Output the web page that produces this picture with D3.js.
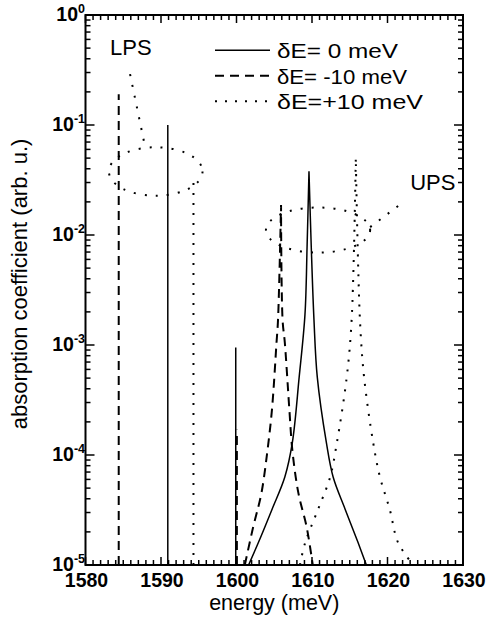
<!DOCTYPE html>
<html>
<head>
<meta charset="utf-8">
<script src="https://cdn.jsdelivr.net/npm/d3@7"></script>
<style>
    body { margin: 0; background: #fff; }
    text { font-family: 'Liberation Sans', Arial, sans-serif; fill: #000; }
    .tick-label { font-weight: bold; font-size: 19.5px; }
</style>
</head>
<body>
<div class="viz"></div>
<script>
// series: [energy (meV), absorption]
const seriesNames = ['δE= 0 meV', 'δE= -10 meV', 'δE=+10 meV'];

const curveZero = [
    [1601.6, 1.0e-5], [1602.9, 1.6e-5], [1604.7, 3.2e-5], [1606.4, 6.3e-5],
    [1607.4, 1.3e-4], [1608.3, 5.1e-4], [1609.07, 1.9e-3], [1609.35, 7.9e-3],
    [1609.6, 0.038],
    [1609.9, 7.9e-3], [1610.26, 1.7e-3], [1610.7, 5.1e-4], [1611.9, 1.3e-4],
    [1612.8, 6.3e-5], [1614.4, 3.2e-5], [1616.1, 1.6e-5], [1617.2, 1.0e-5]
];
const curveMinus = [
    [1601.1, 1.0e-5], [1602.2, 2.2e-5], [1603.3, 4.5e-5], [1604.1, 1.1e-4],
    [1604.7, 2.6e-4], [1605.3, 1.05e-3], [1605.5, 1.7e-3],
    [1605.9, 0.0187],
    [1606.1, 1.7e-3], [1606.4, 1.05e-3], [1607.0, 2.6e-4], [1607.4, 1.1e-4],
    [1608.2, 4.5e-5], [1609.3, 2.2e-5], [1610.1, 1.0e-5]
];
const curvePlus = [
    [1608.4, 1.0e-5], [1609.1, 1.6e-5], [1610.8, 3.2e-5], [1612.4, 6.3e-5],
    [1613.3, 1.3e-4], [1614.6, 5.1e-4], [1615.25, 1.7e-3],
    [1615.8, 0.05],
    [1616.35, 1.7e-3], [1616.9, 5.1e-4], [1618.1, 1.3e-4], [1619.0, 6.3e-5],
    [1620.3, 3.2e-5], [1621.4, 1.6e-5], [1623.4, 1.0e-5]
];

// narrow lines: [energy, peak]
const spikesZero = [[1590.9, 0.1], [1599.9, 9.5e-4]];
const spikesMinus = [[1584.4, 0.19], [1600.05, 1.7e-4]];
const spikesPlus = [[1594.3, 0.03]];

const xTicks = [1580, 1590, 1600, 1610, 1620, 1630];
const yTicks = [1e-5, 1e-4, 1e-3, 1e-2, 1e-1, 1];

// annotations: center [energy, value], half width (meV), half height (decades)
const ellipses = [
    {c: [1589.3, 0.0378], rx: 6.2, ry: 0.22},
    {c: [1610.8, 0.0111], rx: 6.9, ry: 0.205}
];
const pointers = [
    [[1585.9, 0.29], [1587.9, 0.063]],
    [[1617.7, 0.0118], [1622.3, 0.0204]]
];
const labels = [
    {text: 'LPS', at: [1583.25, 0.43]},
    {text: 'UPS', at: [1623.0, 0.0257]}
];

const styles = [
    {width: 1.5, dash: null},
    {width: 2, dash: '9,6'},
    {width: 2, dash: '2,8'}
];

const width = 487;
const height = 626;
const margin = {top: 15, right: 24, bottom: 61, left: 85.5};

const svg = d3.select('.viz')
    .append('svg')
    .attr('width', width)
    .attr('height', height);

const x = d3.scaleLinear()
    .domain([1580, 1630])
    .range([margin.left, width - margin.right]);
const y = d3.scaleLog()
    .domain([1e-5, 1])
    .range([height - margin.bottom, margin.top]);

const x0 = x.range()[0], x1 = x.range()[1];
const y0 = y.range()[0], y1 = y.range()[1];

svg.append('clipPath')
    .attr('id', 'clip')
    .append('rect')
        .attr('x', x0)
        .attr('y', y1)
        .attr('width', x1 - x0)
        .attr('height', y0 - y1);

const plot = svg.append('g').attr('clip-path', 'url(#clip)');

const line = d3.line()
    .x(d => x(d[0]))
    .y(d => y(d[1]));

// smooth each flank separately so the peak stays sharp
const flank = d3.line()
    .x(d => x(d[0]))
    .y(d => y(d[1]))
    .curve(d3.curveCatmullRom.alpha(0.5));

function flankPath(c) {
    const top = d3.maxIndex(c, d => d[1]);
    const left = flank(c.slice(0, top + 1));
    const right = flank(c.slice(top));
    return left + right.replace(/^M[^LC]*/, 'L' + x(c[top][0]) + ',' + y(c[top][1]));
}

const curves = [curveZero, curveMinus, curvePlus];
const spikes = [spikesZero, spikesMinus, spikesPlus];

curves.forEach((c, i) => {
    plot.append('path')
        .attr('d', flankPath(c))
        .attr('fill', 'none')
        .attr('stroke', '#000')
        .attr('stroke-width', styles[i].width)
        .attr('stroke-dasharray', styles[i].dash);

    plot.selectAll('.spike-' + i)
        .data(spikes[i])
        .enter()
        .append('line')
            .classed('spike-' + i, true)
            .attr('x1', d => x(d[0]))
            .attr('x2', d => x(d[0]))
            .attr('y1', y(1e-5))
            .attr('y2', d => y(d[1]))
            .attr('stroke', '#000')
            .attr('stroke-width', styles[i].width)
            .attr('stroke-dasharray', styles[i].dash);
});

// annotations
ellipses.forEach(e => {
    plot.append('ellipse')
        .attr('cx', x(e.c[0]))
        .attr('cy', y(e.c[1]))
        .attr('rx', x(e.c[0] + e.rx) - x(e.c[0]))
        .attr('ry', y(e.c[1] / Math.pow(10, e.ry)) - y(e.c[1]))
        .attr('fill', 'none')
        .attr('stroke', '#000')
        .attr('stroke-width', 2)
        .attr('stroke-dasharray', '2,9');
});

pointers.forEach(p => {
    plot.append('path')
        .datum(p)
        .attr('d', line)
        .attr('fill', 'none')
        .attr('stroke', '#000')
        .attr('stroke-width', 2)
        .attr('stroke-dasharray', '2,9');
});

svg.selectAll('.region')
    .data(labels)
    .enter()
    .append('text')
        .classed('region', true)
        .attr('x', d => x(d.at[0]))
        .attr('y', d => y(d.at[1]))
        .style('font-size', '22px')
        .text(d => d.text);

// frame and ticks
const axes = svg.append('g');

axes.append('rect')
    .attr('x', x0)
    .attr('y', y1)
    .attr('width', x1 - x0)
    .attr('height', y0 - y1)
    .attr('fill', 'none')
    .attr('stroke', '#000')
    .attr('stroke-width', 2);

const xMinor = d3.range(1581, 1630).filter(v => v % 10 != 0);
const yMinor = [];
yTicks.slice(0, -1).forEach(t => {
    d3.range(2, 10).forEach(k => yMinor.push(t * k));
});

function tickLines(values, len, horizontal) {
    values.forEach(v => {
        if (horizontal) {
            const px = x(v);
            axes.append('line').attr('x1', px).attr('x2', px).attr('y1', y0).attr('y2', y0 - len);
            axes.append('line').attr('x1', px).attr('x2', px).attr('y1', y1).attr('y2', y1 + len);
        } else {
            const py = y(v);
            axes.append('line').attr('y1', py).attr('y2', py).attr('x1', x0).attr('x2', x0 + len);
            axes.append('line').attr('y1', py).attr('y2', py).attr('x1', x1).attr('x2', x1 - len);
        }
    });
}
tickLines(xTicks, 8, true);
tickLines(xMinor, 5, true);
tickLines(yTicks, 9, false);
tickLines(yMinor, 5, false);
axes.selectAll('line')
    .attr('stroke', '#000')
    .attr('stroke-width', 1.5);

svg.selectAll('.xlabel')
    .data(xTicks)
    .enter()
    .append('text')
        .classed('tick-label', true)
        .attr('x', d => x(d) + 1)
        .attr('y', 586.5)
        .attr('text-anchor', 'middle')
        .text(d => d);

const yLabels = svg.selectAll('.ylabel')
    .data(yTicks)
    .enter()
    .append('text')
        .classed('tick-label', true)
        .attr('x', 85)
        .attr('y', d => y(d) + 5.5)
        .attr('text-anchor', 'end');
yLabels.append('tspan')
    .text('10');
yLabels.append('tspan')
    .attr('dy', -7.5)
    .style('font-size', '12.5px')
    .text(d => Math.round(Math.log10(d)));

// axis titles
svg.append('text')
    .attr('x', (x0 + x1) / 2)
    .attr('y', 610)
    .attr('text-anchor', 'middle')
    .style('font-size', '21.5px')
    .text('energy (meV)');

svg.append('text')
    .attr('transform', 'translate(27,' + ((y0 + y1) / 2 - 6) + ') rotate(-90)')
    .attr('text-anchor', 'middle')
    .style('font-size', '22px')
    .text('absorption coefficient (arb. u.)');

// legend
const legendLengths = [121, 130, 146];
const legend = svg.selectAll('.legend')
    .data(seriesNames)
    .enter()
    .append('g')
        .classed('legend', true)
        .attr('transform', (d, i) => 'translate(215,' + (58.3 + i * 25.5) + ')');

legend.append('line')
    .attr('x1', 0)
    .attr('x2', 55)
    .attr('y1', -8)
    .attr('y2', -8)
    .attr('stroke', '#000')
    .attr('stroke-width', (d, i) => styles[i].width)
    .attr('stroke-dasharray', (d, i) => styles[i].dash);

legend.append('text')
    .attr('x', 62)
    .attr('y', 0)
    .attr('textLength', (d, i) => legendLengths[i])
    .attr('lengthAdjust', 'spacingAndGlyphs')
    .style('font-size', '21px')
    .text(d => d);
</script>
</body>
</html>
